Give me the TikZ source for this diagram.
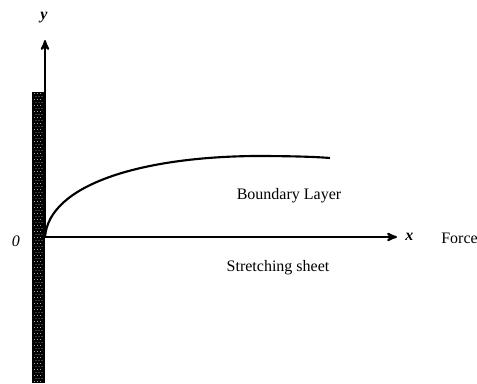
\documentclass[tikz,border=0pt]{standalone}
\usepackage{fontspec}
\setmainfont{Liberation Serif}
\usetikzlibrary{arrows,positioning}

\begin{document}
\begin{tikzpicture}[x=0.75pt, y=-0.75pt, >=stealth',
        axis/.style={->, line width=1.5pt},
        layer/.style={line width=1.6pt},
        label/.style={font=\fontsize{12}{14}\selectfont, inner sep=0pt},
        axislabel/.style={font=\fontsize{12}{14}\selectfont\bfseries\itshape, inner sep=0pt}]
    \useasboundingbox (0,0) rectangle (477,383);

    % stretching wall
    \fill[black] (32,92) rectangle (45,383);
    \foreach \r in {0,...,96}{
        \pgfmathsetmacro{\sh}{mod(\r,2)*1.5}
        \foreach \c in {34.5,37.5,40.5}
            \fill[white] (\c+\sh,93.5+3*\r) circle (0.35pt);
    }

    \coordinate (O) at (45,237);
    \coordinate (ytip) at (45,40);
    \coordinate (xtip) at (397,237);
    \coordinate (edge) at (330,158);

    % axes
    \draw[axis] (O) -- (ytip);
    \draw[axis] (O) -- (xtip);

    % boundary layer edge
    \draw[layer] (O) .. controls (49,185) and (140,157) .. (255,156)
        .. controls (295,156) and (318,157) .. (edge);

    \node[axislabel] (ylab) at (44,18) {y};
    \node[axislabel, right=6pt of xtip] (xlab) {x};
    \node[label, font=\fontsize{12}{14}\selectfont\itshape] (olab) at (16,241) {0};
    \node[label, anchor=west] (force) at (441,238) {Force};
    \node[label] (bl) at (289,196) {Boundary Layer};
    \node[label] (sheet) at (278,268) {Stretching sheet};
\end{tikzpicture}
\end{document}
